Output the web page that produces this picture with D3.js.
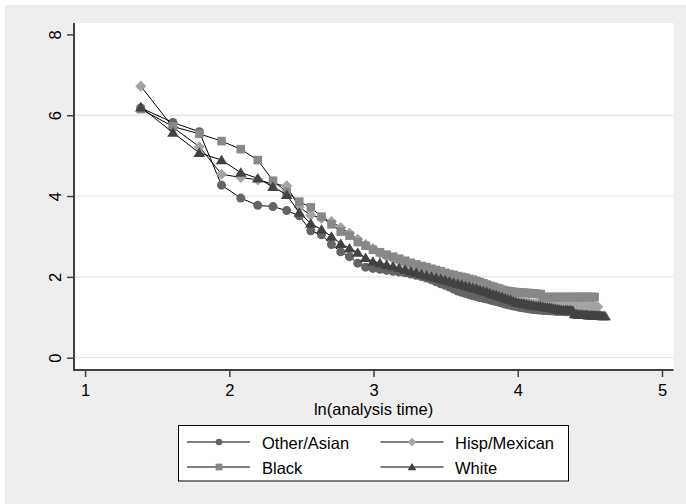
<!DOCTYPE html>
<html>
<head>
<meta charset="utf-8">
<script src="https://cdn.jsdelivr.net/npm/d3@7"></script>
<style>
body { margin: 0; background: #fff; }
text { font-family: "Liberation Sans", Arial, sans-serif; }
</style>
</head>
<body>
<script>
// analysis times (x is ln of these)
var times = [4, 5, 6, 7, 8, 9, 10, 11, 12, 13,
  14, 15, 16, 17, 18, 19, 20, 21, 22, 23,
  24, 25, 26, 27, 28, 29, 30, 31, 32, 33,
  34, 35, 36, 37, 38, 39, 40, 41, 42, 43,
  44, 45, 46, 47, 48, 49, 50, 51, 52, 53,
  54, 55, 56, 57, 58, 59, 60, 61, 62, 63,
  64, 65, 66, 67, 68, 69, 70, 71, 72, 73,
  74, 75, 76, 77, 78, 79, 80, 81, 82, 83,
  84, 85, 86, 87, 88, 89, 90, 91, 92, 93,
  94, 95, 96, 97, 98, 99, 100];

var otherAsian = [6.18, 5.82, 5.59, 4.27, 3.95, 3.77, 3.74, 3.64, 3.51, 3.14,
  3.04, 2.80, 2.62, 2.50, 2.34, 2.24, 2.21, 2.19, 2.16, 2.14,
  2.12, 2.10, 2.07, 2.04, 2.01, 1.97, 1.93, 1.88, 1.83, 1.79,
  1.75, 1.70, 1.65, 1.62, 1.59, 1.56, 1.53, 1.51, 1.49, 1.47,
  1.45, 1.43, 1.41, 1.39, 1.37, 1.35, 1.33, 1.31, 1.30, 1.28,
  1.27, 1.25, 1.24, 1.23, 1.22, 1.21, 1.20, 1.19, 1.19, 1.18,
  1.18, 1.17, 1.17, 1.17, 1.16, 1.16, 1.16, 1.15, 1.15, 1.15,
  1.15, 1.15, 1.14, 1.14, 1.14, 1.14, 1.14];

var hispMexican = [6.72, 5.70, 5.22, 4.54, 4.46, 4.40, 4.30, 4.25, 3.72, 3.53,
  3.45, 3.37, 3.22, 3.08, 2.93, 2.80, 2.70, 2.58, 2.50, 2.44,
  2.38, 2.32, 2.26, 2.21, 2.16, 2.12, 2.08, 2.04, 2.00, 1.97,
  1.94, 1.90, 1.87, 1.84, 1.81, 1.78, 1.76, 1.73, 1.70, 1.67,
  1.65, 1.62, 1.59, 1.57, 1.54, 1.52, 1.49, 1.47, 1.45, 1.43,
  1.41, 1.39, 1.38, 1.37, 1.36, 1.35, 1.34, 1.33, 1.33, 1.32,
  1.32, 1.31, 1.31, 1.30, 1.30, 1.29, 1.29, 1.28, 1.28, 1.28,
  1.28, 1.28, 1.27, 1.27, 1.27, 1.27, 1.27, 1.27, 1.27, 1.27,
  1.27, 1.27, 1.26, 1.26, 1.26, 1.26, 1.26, 1.26, 1.26, 1.26,
  1.26, 1.26];

var black = [6.15, 5.72, 5.54, 5.36, 5.16, 4.89, 4.38, 4.10, 3.86, 3.72,
  3.49, 3.30, 3.12, 3.02, 2.86, 2.77, 2.67, 2.61, 2.55, 2.50,
  2.45, 2.40, 2.35, 2.31, 2.27, 2.24, 2.20, 2.17, 2.14, 2.10,
  2.07, 2.05, 2.02, 2.00, 1.98, 1.95, 1.93, 1.90, 1.87, 1.84,
  1.81, 1.78, 1.76, 1.73, 1.71, 1.68, 1.66, 1.65, 1.64, 1.63,
  1.62, 1.62, 1.61, 1.61, 1.60, 1.60, 1.59, 1.59, 1.58, 1.58,
  1.57, 1.50, 1.50, 1.50, 1.50, 1.50, 1.50, 1.50, 1.50, 1.50,
  1.50, 1.50, 1.50, 1.50, 1.50, 1.50, 1.50, 1.50, 1.50, 1.50,
  1.50, 1.50, 1.50, 1.50, 1.50, 1.50, 1.50, 1.50, 1.50, 1.50];

var white = [6.20, 5.57, 5.07, 4.89, 4.58, 4.44, 4.23, 4.03, 3.59, 3.32,
  3.17, 3.00, 2.82, 2.71, 2.60, 2.47, 2.38, 2.34, 2.30, 2.26,
  2.22, 2.18, 2.14, 2.11, 2.07, 2.04, 2.01, 1.98, 1.95, 1.92,
  1.89, 1.86, 1.83, 1.81, 1.78, 1.76, 1.73, 1.71, 1.68, 1.65,
  1.63, 1.60, 1.57, 1.55, 1.52, 1.50, 1.47, 1.45, 1.43, 1.40,
  1.38, 1.36, 1.35, 1.34, 1.33, 1.31, 1.30, 1.29, 1.28, 1.28,
  1.27, 1.26, 1.25, 1.24, 1.24, 1.23, 1.22, 1.21, 1.20, 1.19,
  1.18, 1.18, 1.18, 1.18, 1.17, 1.17, 1.16, 1.08, 1.08, 1.07,
  1.07, 1.07, 1.06, 1.06, 1.06, 1.05, 1.05, 1.05, 1.05, 1.04,
  1.04, 1.04, 1.04, 1.04, 1.03, 1.03, 1.03];

var xTicks = [1, 2, 3, 4, 5];
var yTicks = [0, 2, 4, 6, 8];
var gridTicks = [0, 2, 4, 6];

var width = 686, height = 504;
var plotLeft = 74, plotRight = 673.5, plotTop = 23, plotBottom = 370;

// custom marker shapes, size = half width squared
var circleSym = { draw: function(c, s) { var r = Math.sqrt(s); c.moveTo(r, 0); c.arc(0, 0, r, 0, 2 * Math.PI); } };
var squareSym = { draw: function(c, s) { var r = Math.sqrt(s); c.rect(-r, -r, 2 * r, 2 * r); } };
var diamondSym = { draw: function(c, s) { var r = Math.sqrt(s); c.moveTo(0, -r); c.lineTo(r, 0); c.lineTo(0, r); c.lineTo(-r, 0); c.closePath(); } };
var triangleSym = { draw: function(c, s) { var r = Math.sqrt(s); c.moveTo(0, -r); c.lineTo(r * 1.1, r * 0.8); c.lineTo(-r * 1.1, r * 0.8); c.closePath(); } };

var series = [
  { name: "Other/Asian", values: otherAsian, sym: circleSym, size: 4.5 * 4.5, lsize: 3.3 * 3.3, color: "#646464" },
  { name: "Hisp/Mexican", values: hispMexican, sym: diamondSym, size: 5.6 * 5.6, lsize: 4.3 * 4.3, color: "#a4a4a4" },
  { name: "Black", values: black, sym: squareSym, size: 4.3 * 4.3, lsize: 3.4 * 3.4, color: "#888888" },
  { name: "White", values: white, sym: triangleSym, size: 5.3 * 5.3, lsize: 4 * 4, color: "#424242" }
];

var svg = d3.select("body").append("svg")
    .attr("width", width)
    .attr("height", height);

svg.append("rect").attr("width", width).attr("height", height).attr("fill", "#fff");
svg.append("rect")
    .attr("x", 5).attr("y", 5)
    .attr("width", width - 5).attr("height", height - 5)
    .attr("fill", "#eeeeee");
svg.append("rect")
    .attr("x", plotLeft).attr("y", plotTop)
    .attr("width", plotRight - plotLeft).attr("height", plotBottom - plotTop)
    .attr("fill", "#fff");

var x = d3.scaleLinear().domain([1, 5]).range([85.1, 662]);
var y = d3.scaleLinear().domain([0, 8]).range([357.7, 34.4]);

// grid
svg.append("g").selectAll("line")
    .data(gridTicks)
  .enter().append("line")
    .attr("x1", plotLeft).attr("x2", plotRight)
    .attr("y1", function(d) { return y(d); })
    .attr("y2", function(d) { return y(d); })
    .attr("stroke", "#e6e6e6")
    .attr("stroke-width", 1.3);

// series: line then markers
var line = d3.line()
    .x(function(d) { return x(Math.log(d[0])); })
    .y(function(d) { return y(d[1]); });

series.forEach(function(s) {
  var pts = s.values.map(function(v, i) { return [times[i], v]; });
  svg.append("path")
      .datum(pts)
      .attr("d", line)
      .attr("fill", "none")
      .attr("stroke", "#000")
      .attr("stroke-width", 1);
  svg.append("g").selectAll("path")
      .data(pts)
    .enter().append("path")
      .attr("d", d3.symbol().type(s.sym).size(s.size))
      .attr("transform", function(d) { return "translate(" + x(Math.log(d[0])) + "," + y(d[1]) + ")"; })
      .attr("fill", s.color);
});

// axes
var yAxis = svg.append("g")
    .attr("transform", "translate(" + plotLeft + ",0)")
    .call(d3.axisLeft(y).tickValues(yTicks).tickSize(7).tickFormat(d3.format("d")));
yAxis.select(".domain").remove();
yAxis.selectAll(".tick line").attr("stroke", "#404040").attr("stroke-width", 1.5);
yAxis.selectAll(".tick text")
    .attr("x", null).attr("dy", null)
    .attr("transform", "translate(-13,0) rotate(-90)")
    .attr("text-anchor", "middle")
    .attr("fill", "#000")
    .style("font-size", "16.5px");
svg.append("line")
    .attr("x1", plotLeft).attr("x2", plotLeft)
    .attr("y1", plotTop).attr("y2", plotBottom + 1)
    .attr("stroke", "#404040").attr("stroke-width", 2);

var xAxis = svg.append("g")
    .attr("transform", "translate(0," + plotBottom + ")")
    .call(d3.axisBottom(x).tickValues(xTicks).tickSize(7).tickFormat(d3.format("d")));
xAxis.select(".domain").remove();
xAxis.selectAll(".tick line").attr("stroke", "#404040").attr("stroke-width", 1.5);
xAxis.selectAll(".tick text")
    .attr("y", 26).attr("dy", null)
    .attr("fill", "#000")
    .style("font-size", "16.5px");
svg.append("line")
    .attr("x1", plotLeft - 1).attr("x2", plotRight)
    .attr("y1", plotBottom).attr("y2", plotBottom)
    .attr("stroke", "#404040").attr("stroke-width", 2);

svg.append("text")
    .attr("x", x(3)).attr("y", 415)
    .attr("text-anchor", "middle")
    .style("font-size", "16.5px")
    .text("ln(analysis time)");

// legend
var legend = svg.append("g");
legend.append("rect")
    .attr("x", 178.5).attr("y", 425.5)
    .attr("width", 390).attr("height", 55.5)
    .attr("fill", "#fff").attr("stroke", "#000").attr("stroke-width", 1);

var legendPos = [
  { lx: 187, mx: 219, tx: 262, ty: 442 },
  { lx: 380.5, mx: 412, tx: 455, ty: 442 },
  { lx: 187, mx: 219, tx: 262, ty: 467 },
  { lx: 380.5, mx: 412, tx: 455, ty: 467 }
];

series.forEach(function(s, i) {
  var p = legendPos[i];
  legend.append("line")
      .attr("x1", p.lx).attr("x2", p.lx + 63)
      .attr("y1", p.ty).attr("y2", p.ty)
      .attr("stroke", "#000").attr("stroke-width", 1);
  legend.append("path")
      .attr("d", d3.symbol().type(s.sym).size(s.lsize))
      .attr("transform", "translate(" + p.mx + "," + p.ty + ")")
      .attr("fill", s.color);
  legend.append("text")
      .attr("x", p.tx).attr("y", p.ty + 7)
      .style("font-size", "16.5px")
      .text(s.name);
});
</script>
</body>
</html>
